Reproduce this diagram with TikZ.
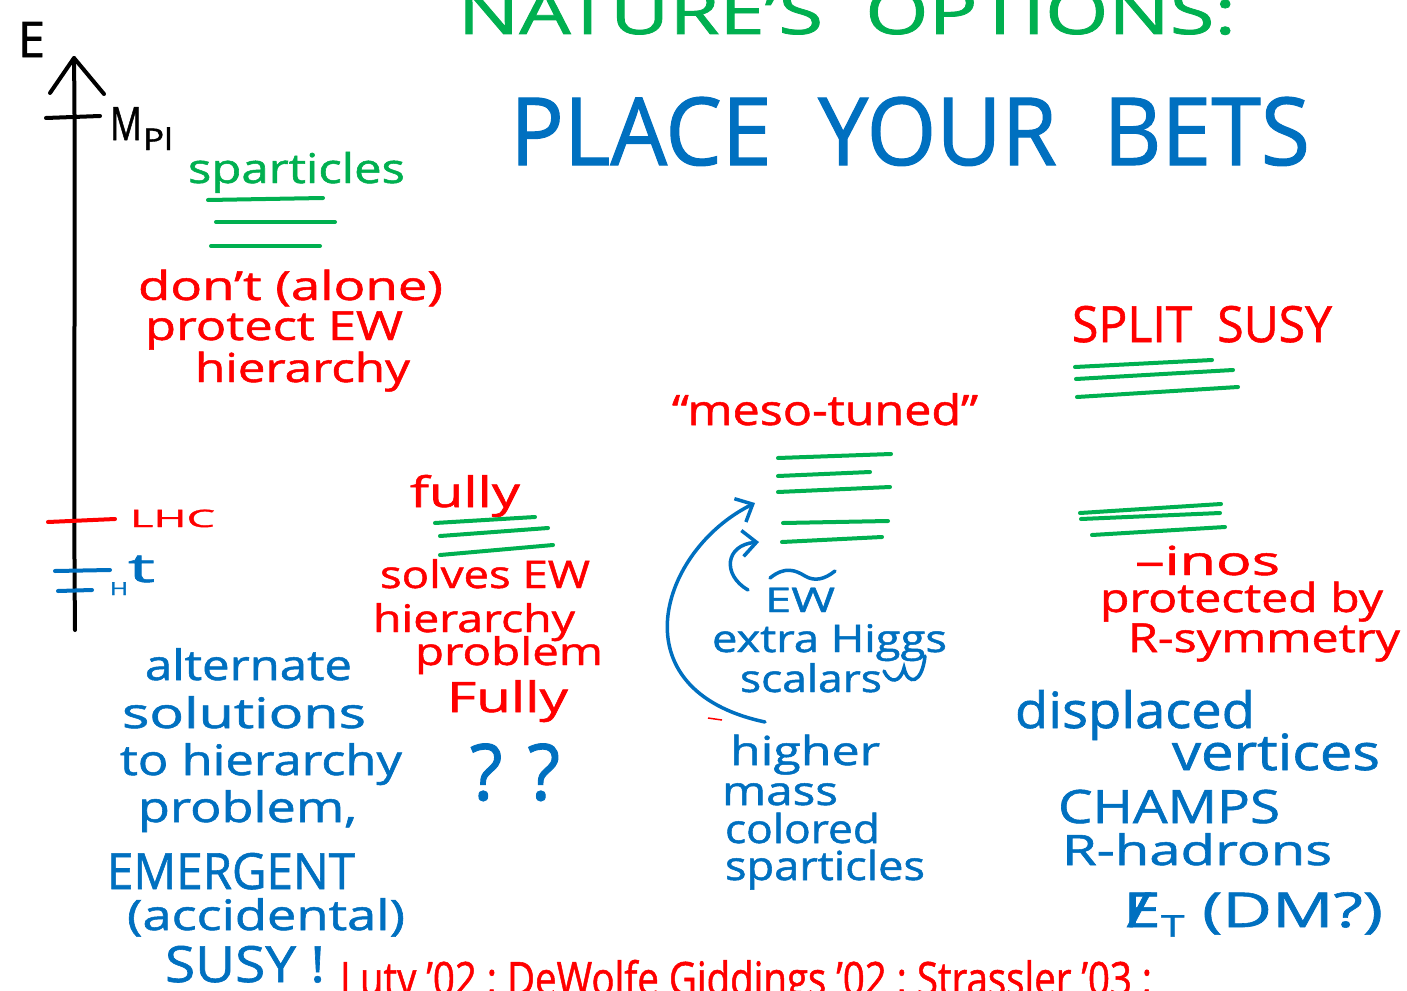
\documentclass[tikz,border=0pt]{standalone}
\usepackage{fontspec}
\setmainfont{Open Sans}[FakeBold=1.2]
\usetikzlibrary{arrows.meta}
\definecolor{pgreen}{RGB}{0,176,80}
\definecolor{pblue}{RGB}{0,112,192}
\definecolor{pred}{RGB}{255,0,0}
\newcommand\hw[3]{\resizebox{#1pt}{\height}{\fontsize{#2}{#2}\selectfont #3}}
\begin{document}
\begin{tikzpicture}[x=1pt,y=-1pt,
  txt/.style={anchor=base west,inner sep=0pt,outer sep=0pt},
  lvl/.style={pgreen,line width=4pt,line cap=round},
  tick/.style={line width=4pt,line cap=round},
  barrow/.style={pblue,line width=3.5pt,line cap=round,-{Straight Barb[length=14pt,width=26pt,line width=3.5pt]}}]
\fill[white] (0,0) rectangle (1407,990);
\useasboundingbox (0,0) rectangle (1407,990);

% energy axis
\coordinate (axbot) at (75,630);
\coordinate (axtop) at (74,58);
\draw[line width=4pt,line cap=round] (axbot) .. controls (73,420) and (76,220) .. (axtop);
\draw[line width=4pt,line cap=round,line join=round] (50,93) -- (axtop) -- (104,94);
\node[txt] (E) at (18,57) {\hw{27}{49}{E}};
\draw[tick] (46,118) -- (100,116);
\node[txt] (M) at (110,140) {\hw{32}{46}{M}};
\node[txt] (Pl) at (143,150) {\hw{30}{30}{Pl}};
\draw[tick,pred] (48,522) -- (115,519);
\node[txt,pred] (lhc) at (130,527) {\hw{85}{24}{LHC}};
\draw[tick,pblue] (55,571) -- (110,570);
\draw[tick,pblue] (58,591) -- (92,590);
\node[txt,pblue] (top) at (128,582) {\hw{27}{40}{t}};
\node[txt,pblue] (hig) at (110,595) {\hw{18}{18}{H}};

% titles
\node[txt,pgreen] (title) at (458,34) {\hw{778}{62}{NATURE’S\ \ OPTIONS:}};
\node[txt,pblue] (bets) at (510,165) {\hw{800}{94}{PLACE\ \ YOUR\ \ BETS}};

% sparticles column
\node[txt,pgreen] (spart) at (188,183) {\hw{217}{41}{sparticles}};
\draw[lvl] (208,200) -- (323,198);
\draw[lvl] (216,222) -- (335,222);
\draw[lvl] (211,246) -- (320,246);
\node[txt,pred] (dont) at (138,300) {\hw{305}{40}{don’t (alone)}};
\node[txt,pred] (prot) at (145,340) {\hw{258}{40}{protect EW}};
\node[txt,pred] (hier1) at (195,382) {\hw{215}{40}{hierarchy}};

% fully column
\node[txt,pred] (fully) at (410,507) {\hw{110}{42}{fully}};
\draw[lvl] (435,523) -- (535,517);
\draw[lvl] (440,536) -- (548,528);
\draw[lvl] (440,555) -- (553,545);
\node[txt,pred] (solv) at (380,588) {\hw{210}{38}{solves EW}};
\node[txt,pred] (hier2) at (373,632) {\hw{202}{38}{hierarchy}};
\node[txt,pred] (prob) at (415,665) {\hw{188}{38}{problem}};
\node[txt,pred] (Fully) at (447,712) {\hw{121}{42}{Fully}};
\node[txt,pblue] (qq) at (470,800) {\hw{90}{78}{?\,\,?}};

% meso-tuned column
\node[txt,pred] (meso) at (672,425) {\hw{306}{42}{“meso-tuned”}};
\draw[lvl] (778,458) -- (891,454);
\draw[lvl] (778,476) -- (870,472);
\draw[lvl] (778,492) -- (890,487);
\draw[lvl] (783,523) -- (888,521);
\draw[lvl] (782,542) -- (882,537);
\coordinate (bigtip) at (755,503);
\coordinate (bigstart) at (765,722);
\draw[barrow] (bigstart) .. controls (615,690) and (660,550) .. (bigtip);
\coordinate (smalltip) at (759,542);
\coordinate (smallstart) at (748,590);
\draw[barrow] (smallstart) .. controls (722,575) and (725,545) .. (smalltip);
\node[txt,pblue] (ew) at (765,612) {\hw{70}{34}{EW}};
\draw[pblue,line width=3.5pt,line cap=round] (770,578) .. controls (785,566) and (795,570) .. (805,576) .. controls (815,582) and (825,579) .. (835,571);
\node[txt,pblue] (xh) at (712,652) {\hw{235}{38}{extra Higgs}};
\node[txt,pblue] (scal) at (740,692) {\hw{142}{38}{scalars}};
\draw[pblue,line width=3.5pt,line cap=round] (884,671) .. controls (890,684) and (900,683) .. (904,668) .. controls (908,686) and (922,684) .. (925,656);
\draw[pred,line width=1.5pt] (708,718) -- (722,720);
\node[txt,pblue] (higher) at (730,765) {\hw{150}{40}{higher}};
\node[txt,pblue] (mass) at (722,805) {\hw{116}{40}{mass}};
\node[txt,pblue] (col) at (725,843) {\hw{155}{40}{colored}};
\node[txt,pblue] (spart2) at (725,880) {\hw{200}{40}{sparticles}};

% alternate solutions
\node[txt,pblue] (alt) at (145,680) {\hw{207}{42}{alternate}};
\node[txt,pblue] (sol) at (122,728) {\hw{244}{42}{solutions}};
\node[txt,pblue] (toh) at (120,775) {\hw{282}{42}{to hierarchy}};
\node[txt,pblue] (prob2) at (138,822) {\hw{219}{42}{problem,}};
\node[txt,pblue] (emer) at (107,889) {\hw{248}{50}{EMERGENT}};
\node[txt,pblue] (acc) at (127,930) {\hw{278}{42}{(accidental)}};
\node[txt,pblue] (susy) at (165,982) {\hw{160}{50}{SUSY !}};

% split susy column
\node[txt,pred] (split) at (1072,342) {\hw{260}{50}{SPLIT\ \ SUSY}};
\draw[lvl] (1075,367) -- (1212,360);
\draw[lvl] (1076,379) -- (1233,370);
\draw[lvl] (1077,397) -- (1238,387);
\draw[lvl] (1080,513) -- (1221,504);
\draw[lvl] (1081,519) -- (1220,513);
\draw[lvl] (1092,535) -- (1225,527);
\node[txt,pred] (inos) at (1135,575) {\hw{145}{40}{–inos}};
\node[txt,pred] (protby) at (1100,612) {\hw{283}{40}{protected by}};
\node[txt,pred] (rsym) at (1128,652) {\hw{272}{40}{R-symmetry}};
\node[txt,pblue] (disp) at (1015,728) {\hw{240}{50}{displaced}};
\node[txt,pblue] (vert) at (1172,770) {\hw{208}{50}{vertices}};
\node[txt,pblue] (champ) at (1058,823) {\hw{222}{46}{CHAMPS}};
\node[txt,pblue] (rhad) at (1062,865) {\hw{270}{42}{R-hadrons}};
\node[txt,pblue] (met) at (1123,927) {\hw{260}{48}{\rlap{\kern0.05em/}E\raisebox{-0.2em}{\fontsize{30}{30}\selectfont T}\ (DM?)}};

% references
\node[txt,pred] (refs) at (340,995) {\hw{812}{46}{Luty ’02 ; DeWolfe Giddings ’02 ; Strassler ’03 ;}};
\end{tikzpicture}
\end{document}
